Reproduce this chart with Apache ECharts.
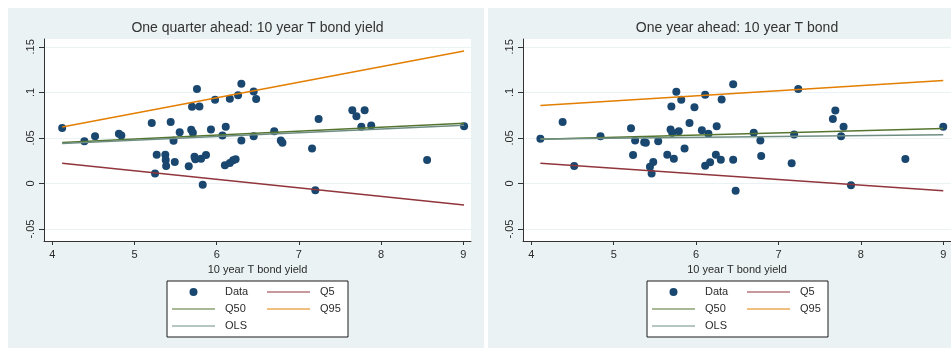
<!DOCTYPE html>
<html>
<head>
<meta charset="utf-8">
<script src="https://cdn.jsdelivr.net/npm/echarts@6/dist/echarts.min.js"></script>
<style>
  html, body { margin: 0; padding: 0; background: #ffffff; }
  #wrap { position: relative; width: 951px; height: 348px; overflow: hidden; }
  #quarter { position: absolute; left: 8px; top: 8px; width: 476px; height: 340px; }
  #year { position: absolute; left: 488px; top: 8px; width: 463px; height: 340px; }
</style>
</head>
<body>
<div id="wrap">
  <div id="quarter"></div>
  <div id="year"></div>
</div>
<script>
// Axis ticks and their Stata-style labels
const xTicks = [4, 5, 6, 7, 8, 9];
const yTicks = [-0.05, 0, 0.05, 0.1, 0.15];
const yTickLabels = ['-.05', '0', '.05', '.1', '.15'];
const xTitle = '10 year T bond yield';

// One quarter ahead: observations
const quarterX = [4.12, 4.39, 4.52, 4.81, 4.84, 5.21, 5.25, 5.27, 5.375, 5.38, 5.385, 5.44, 5.475, 5.49, 5.55, 5.66, 5.69, 5.71, 5.70, 5.73, 5.74, 5.76, 5.79, 5.81, 5.83, 5.87, 5.93, 5.98, 6.07, 6.10, 6.11, 6.16, 6.16, 6.20, 6.23, 6.26, 6.30, 6.30, 6.45, 6.45, 6.48, 6.70, 6.78, 6.80, 7.16, 7.20, 7.24, 7.65, 7.70, 7.76, 7.80, 7.88, 8.56, 9.01];
const quarterY = [0.061, 0.0465, 0.052, 0.0545, 0.0527, 0.0665, 0.011, 0.0316, 0.0316, 0.0257, 0.0192, 0.0676, 0.047, 0.0236, 0.0563, 0.0189, 0.059, 0.0556, 0.0843, 0.0294, 0.0265, 0.1036, 0.0846, 0.0273, -0.0015, 0.0312, 0.0592, 0.092, 0.0527, 0.020, 0.0622, 0.0225, 0.093, 0.0254, 0.0265, 0.097, 0.1094, 0.0472, 0.101, 0.052, 0.0927, 0.0574, 0.0472, 0.0447, 0.0385, -0.0073, 0.0709, 0.0803, 0.0737, 0.0622, 0.0803, 0.0636, 0.0257, 0.0628];
// One quarter ahead: fitted lines at the lowest and highest yield
const quarterLineX = [4.12, 9.01];
const quarterQ5 = [0.0221, -0.0237];
const quarterQ50 = [0.045, 0.066];
const quarterQ95 = [0.062, 0.1454];
const quarterOLS = [0.044, 0.064];

// One year ahead: observations
const yearX = [4.11, 4.38, 4.52, 4.84, 5.21, 5.235, 5.26, 5.37, 5.39, 5.44, 5.48, 5.46, 5.54, 5.65, 5.73, 5.70, 5.76, 5.82, 5.69, 5.71, 5.79, 5.86, 5.92, 5.98, 6.07, 6.15, 6.11, 6.17, 6.11, 6.25, 6.24, 6.30, 6.31, 6.45, 6.45, 6.48, 6.70, 6.78, 6.79, 7.16, 7.19, 7.24, 7.66, 7.69, 7.79, 7.76, 7.88, 8.54, 9.00];
const yearY = [0.049, 0.0676, 0.0192, 0.052, 0.0607, 0.0312, 0.0472, 0.0454, 0.0447, 0.0185, 0.0236, 0.0109, 0.0465, 0.0316, 0.0273, 0.0846, 0.1007, 0.092, 0.0592, 0.0556, 0.0574, 0.0385, 0.0665, 0.0836, 0.0585, 0.0545, 0.0196, 0.0232, 0.0974, 0.0628, 0.0316, 0.0262, 0.0923, 0.0262, 0.109, -0.008, 0.0556, 0.0472, 0.0301, 0.0221, 0.0538, 0.1036, 0.0709, 0.08, 0.0622, 0.052, -0.0019, 0.0268, 0.0622];
// One year ahead: fitted lines
const yearLineX = [4.11, 9.00];
const yearQ5 = [0.0221, -0.008];
const yearQ50 = [0.0486, 0.0605];
const yearQ95 = [0.0857, 0.113];
const yearOLS = [0.0488, 0.0535];

const FONT = '"Liberation Sans", Arial, Helvetica, sans-serif';
const TEXT = '#2b2b2b';
const colors = { data: '#1a476f', q5: '#90353b', q50: '#55752f', q95: '#e37e00', ols: '#6e8e84' };
// Plain horizontal stroke used as the key for the fitted lines
const LINE_KEY = 'path://M0,0h43v1.2h-43z';

function pairs(xs, ys) { return xs.map((x, i) => [x, ys[i]]); }

function fitLine(name, xs, ys, color) {
  return {
    name, type: 'line', data: pairs(xs, ys), symbol: 'none', silent: true,
    lineStyle: { color, width: 1.5 }, itemStyle: { color }, z: 3
  };
}

function buildOption(cfg) {
  return {
    backgroundColor: '#eaf2f3',
    animation: false,
    textStyle: { fontFamily: FONT },
    graphic: [{
      type: 'text', x: cfg.plotLeft + cfg.plotWidth / 2, y: 20, z: 10,
      style: { text: cfg.title, fontFamily: FONT, fontSize: 14, fill: '#333', align: 'center', verticalAlign: 'middle' }
    }],
    grid: {
      left: cfg.plotLeft, top: 31, width: cfg.plotWidth, height: 202,
      show: true, backgroundColor: '#ffffff', borderWidth: 0
    },
    xAxis: {
      type: 'value', min: 3.899, max: 9.094,
      name: xTitle, nameLocation: 'middle', nameGap: 21,
      nameTextStyle: { fontFamily: FONT, fontSize: 11, color: TEXT },
      axisLine: { show: true, onZero: false, lineStyle: { color: '#333', width: 1 } },
      axisTick: { show: true, length: 4, customValues: xTicks, lineStyle: { color: '#333' } },
      axisLabel: { customValues: xTicks, margin: 8, fontFamily: FONT, fontSize: 11, color: TEXT },
      splitLine: { show: false }
    },
    yAxis: {
      type: 'value', min: -0.0631, max: 0.1586,
      axisLine: { show: true, onZero: false, lineStyle: { color: '#333', width: 1 } },
      axisTick: { show: true, length: 5, customValues: yTicks, lineStyle: { color: '#333' } },
      axisLabel: {
        customValues: yTicks, rotate: 90, margin: 8, fontFamily: FONT, fontSize: 11, color: TEXT,
        formatter: v => yTickLabels[yTicks.findIndex(t => Math.abs(t - v) < 1e-9)]
      },
      splitLine: { show: true, lineStyle: { color: '#eaf2f3', width: 1 } }
    },
    legend: {
      left: 159, top: 273, width: 180,
      orient: 'horizontal', itemGap: 0, itemWidth: 43, itemHeight: 8,
      padding: [2.5, 5, 2.5, 5],
      backgroundColor: '#ffffff', borderColor: '#1a1a1a', borderWidth: 1, borderRadius: 0,
      selectedMode: false,
      textStyle: { fontFamily: FONT, fontSize: 11, color: TEXT, width: 42, lineHeight: 17, padding: [0, 0, 0, 5] },
      data: [
        { name: 'Data', icon: 'circle' },
        { name: 'Q5', icon: LINE_KEY, textStyle: { width: 23 } },
        { name: 'Q50', icon: LINE_KEY },
        { name: 'Q95', icon: LINE_KEY, textStyle: { width: 23 } },
        { name: 'OLS', icon: LINE_KEY }
      ]
    },
    series: [
      {
        name: 'Data', type: 'scatter', data: pairs(cfg.x, cfg.y),
        symbol: 'circle', symbolSize: 8, clip: false, z: 2,
        itemStyle: { color: colors.data, opacity: 1 }
      },
      fitLine('Q5', cfg.lineX, cfg.q5, colors.q5),
      fitLine('Q50', cfg.lineX, cfg.q50, colors.q50),
      fitLine('Q95', cfg.lineX, cfg.q95, colors.q95),
      fitLine('OLS', cfg.lineX, cfg.ols, colors.ols)
    ]
  };
}

const quarterChart = echarts.init(document.getElementById('quarter'), null, { renderer: 'canvas' });
quarterChart.setOption(buildOption({
  title: 'One quarter ahead: 10 year T bond yield',
  plotLeft: 36, plotWidth: 427,
  x: quarterX, y: quarterY, lineX: quarterLineX,
  q5: quarterQ5, q50: quarterQ50, q95: quarterQ95, ols: quarterOLS
}));

const yearChart = echarts.init(document.getElementById('year'), null, { renderer: 'canvas' });
yearChart.setOption(buildOption({
  title: 'One year ahead: 10 year T bond',
  plotLeft: 35, plotWidth: 428,
  x: yearX, y: yearY, lineX: yearLineX,
  q5: yearQ5, q50: yearQ50, q95: yearQ95, ols: yearOLS
}));
</script>
</body>
</html>
